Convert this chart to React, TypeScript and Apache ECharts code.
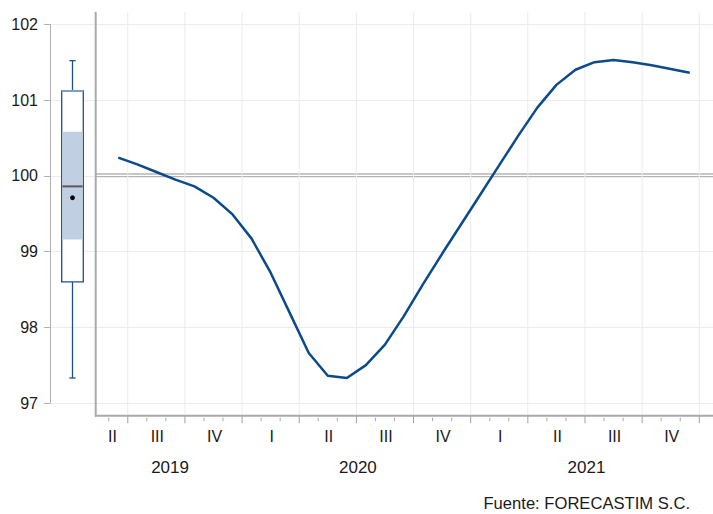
import { useEffect, useRef } from "react";
import * as echarts from "echarts";

// Monthly index, first value = June 2019
const START_YEAR = 2019;
const START_MONTH = 6;
const values: number[] = [
  100.24, 100.15, 100.05, 99.95, 99.86, 99.71, 99.49,
  99.17, 98.72, 98.19, 97.66, 97.36, 97.33, 97.5, 97.77, 98.15, 98.57, 98.97, 99.36, 99.75, 100.14, 100.53, 100.9,
  101.2, 101.4, 101.5, 101.53, 101.5, 101.46, 101.41, 101.36,
];
const quarterNames: string[] = ["I", "II", "III", "IV"];
const yTicks: number[] = [97, 98, 99, 100, 101, 102];
const boxWhiskers: number[] = [97.33, 101.52];
const boxQuartiles: number[] = [98.6, 101.12];
const boxNotch: number[] = [99.16, 100.58];
const boxMedian = 99.86;
const boxMean = 99.71;
const referenceLevel = 100;
const sourceText = "Fuente: FORECASTIM S.C.";

const FONT = '"Liberation Sans", Arial, sans-serif';
const TEXT = "#1a1a1a";
const GRID_C = "#ebebeb";
const AXIS_C = "#aaaaaa";
const BLUE = "#0c4a8c";

const monthOf = (i: number) => (((START_MONTH - 1 + i) % 12) + 12) % 12;
const yearOf = (i: number) => START_YEAR + Math.floor((START_MONTH - 1 + i) / 12);

export default function App() {
  const ref = useRef<HTMLDivElement>(null);
  useEffect(() => {
    if (!ref.current) return;
    const chart = echarts.init(ref.current, undefined, { renderer: "svg" });

    const n = values.length;
    const lineData = values.map((v, i) => [i, v]);

    const boundaries: number[][] = [];
    for (let i = -2; i <= n; i++) boundaries.push([i - 0.5, monthOf(i) % 3 === 0 ? 1 : 0]);

    const quarters: number[][] = [];
    const quarterLabels: string[] = [];
    for (let i = -3; i < n; i++) {
      if (monthOf(i) % 3 === 0) {
        quarters.push([i - 0.5, i + 2.5]);
        quarterLabels.push(quarterNames[monthOf(i) / 3]);
      }
    }
    const years: number[][] = [];
    const yearLabels: string[] = [];
    for (let i = -12; i < n; i++) {
      if (monthOf(i) === 0 || i === -12) {
        const y = yearOf(i);
        const startI = i - monthOf(i);
        years.push([startI - 0.5, startI + 11.5]);
        yearLabels.push(String(y));
      }
    }

    const xMin = -1.22;
    const xMax = 31.22;

    const clampSpan = (api: any, cs: any, a: number, b: number) => {
      let x0 = api.coord([a, 97])[0];
      let x1 = api.coord([b, 97])[0];
      x0 = Math.max(x0, cs.x);
      x1 = Math.min(x1, cs.x + cs.width);
      return [x0, x1];
    };

    const option: any = {
      animation: false,
      grid: [
        { left: 50, top: 24.3, width: 45, height: 378.7 },
        { left: 95, top: 24.3, width: 618, height: 378.7 },
      ],
      xAxis: [
        { gridIndex: 0, type: "value", min: 0, max: 1, show: false },
        {
          gridIndex: 1, type: "value", min: xMin, max: xMax,
          axisLine: { show: false }, axisTick: { show: false },
          axisLabel: { show: false }, splitLine: { show: false },
        },
      ],
      yAxis: [
        {
          gridIndex: 0, type: "value", min: yTicks[0], max: yTicks[yTicks.length - 1], interval: 1,
          axisLine: { show: true, lineStyle: { color: "#b0b0b0", width: 1 } },
          axisTick: { show: true, length: 6, lineStyle: { color: "#b0b0b0" } },
          axisLabel: { margin: 12, fontSize: 16, color: TEXT, fontFamily: FONT },
          splitLine: { show: true, lineStyle: { color: GRID_C, width: 1 } },
        },
        {
          gridIndex: 1, type: "value", min: yTicks[0], max: yTicks[yTicks.length - 1], interval: 1,
          axisLine: { show: false }, axisTick: { show: false }, axisLabel: { show: false },
          splitLine: { show: true, lineStyle: { color: GRID_C, width: 1 } },
        },
      ],
      series: [
        // boxplot panel
        {
          type: "custom", xAxisIndex: 0, yAxisIndex: 0, data: [[0.5]],
          renderItem: (_params: any, api: any) => {
            const c = (x: number, y: number) => api.coord([x, y]);
            const xl = c(0.26, 0)[0], xr = c(0.74, 0)[0], xc = c(0.5, 0)[0];
            const capL = c(0.43, 0)[0], capR = c(0.57, 0)[0];
            const yWl = c(0, boxWhiskers[0])[1], yWh = c(0, boxWhiskers[1])[1];
            const yQ1 = c(0, boxQuartiles[0])[1], yQ3 = c(0, boxQuartiles[1])[1];
            const yN1 = c(0, boxNotch[0])[1], yN2 = c(0, boxNotch[1])[1];
            const yMed = c(0, boxMedian)[1];
            const yMean = c(0, boxMean)[1];
            const blue = "#1f4f8f";
            return {
              type: "group",
              children: [
                { type: "line", shape: { x1: xc, y1: yWh, x2: xc, y2: yQ3 }, style: { stroke: blue, lineWidth: 1.3 } },
                { type: "line", shape: { x1: xc, y1: yQ1, x2: xc, y2: yWl }, style: { stroke: blue, lineWidth: 1.3 } },
                { type: "line", shape: { x1: capL, y1: yWh, x2: capR, y2: yWh }, style: { stroke: blue, lineWidth: 1.3 } },
                { type: "line", shape: { x1: capL, y1: yWl, x2: capR, y2: yWl }, style: { stroke: blue, lineWidth: 1.3 } },
                { type: "rect", shape: { x: xl, y: yQ3, width: xr - xl, height: yQ1 - yQ3 }, style: { fill: "#ffffff", stroke: blue, lineWidth: 1.3 } },
                { type: "rect", shape: { x: xl + 0.7, y: yN2, width: xr - xl - 1.4, height: yN1 - yN2 }, style: { fill: "#c0cfe1" } },
                { type: "line", shape: { x1: xl, y1: yQ3, x2: xr, y2: yQ3 }, style: { stroke: "#7f9fc3", lineWidth: 2 } },
                { type: "line", shape: { x1: xl + 0.7, y1: yMed, x2: xr - 0.7, y2: yMed }, style: { stroke: "#5a5a5a", lineWidth: 2 } },
                { type: "circle", shape: { cx: xc, cy: yMean, r: 2.4 }, style: { fill: "#000000" } },
              ],
            };
          },
        },
        // reference double line at 100
        {
          type: "custom", xAxisIndex: 1, yAxisIndex: 1, data: [[referenceLevel]],
          renderItem: (params: any, api: any) => {
            const cs = params.coordSys;
            const y = api.coord([xMin, api.value(0)])[1];
            return {
              type: "group",
              children: [
                { type: "line", shape: { x1: cs.x, y1: y - 1.8, x2: cs.x + cs.width, y2: y - 1.8 }, style: { stroke: "#b4b4b4", lineWidth: 1.3 } },
                { type: "line", shape: { x1: cs.x, y1: y + 0.8, x2: cs.x + cs.width, y2: y + 0.8 }, style: { stroke: "#b4b4b4", lineWidth: 1.3 } },
              ],
            };
          },
        },
        // month ticks and quarter gridlines
        {
          type: "custom", xAxisIndex: 1, yAxisIndex: 1, data: boundaries,
          renderItem: (params: any, api: any) => {
            const cs = params.coordSys;
            const [x, yb] = api.coord([api.value(0), yTicks[0]]);
            if (x < cs.x + 1 || x > cs.x + cs.width + 0.5) return null;
            const axisY = yb + 12.7;
            const major = api.value(1) === 1;
            const children: any[] = [];
            if (major) {
              children.push({ type: "line", shape: { x1: x, y1: cs.y - 12.3, x2: x, y2: axisY }, style: { stroke: GRID_C, lineWidth: 1 } });
              children.push({ type: "line", shape: { x1: x, y1: axisY, x2: x, y2: axisY + 7.5 }, style: { stroke: "#a0a0a0", lineWidth: 1 } });
            } else {
              children.push({ type: "line", shape: { x1: x, y1: axisY + 2, x2: x, y2: axisY + 5.5 }, style: { stroke: "#a8a8a8", lineWidth: 1 } });
            }
            return { type: "group", children };
          },
        },
        // quarter labels
        {
          type: "custom", xAxisIndex: 1, yAxisIndex: 1, data: quarters,
          renderItem: (params: any, api: any) => {
            const cs = params.coordSys;
            const [x0, x1] = clampSpan(api, cs, api.value(0), api.value(1));
            if (x1 - x0 < 12) return null;
            const axisY = api.coord([xMin, yTicks[0]])[1] + 12.7;
            return {
              type: "text", x: (x0 + x1) / 2 + 1, y: axisY + 20.5,
              style: { text: quarterLabels[params.dataIndex], fill: TEXT, font: `16px ${FONT}`, align: "center", verticalAlign: "middle" },
            };
          },
        },
        // year labels
        {
          type: "custom", xAxisIndex: 1, yAxisIndex: 1, data: years,
          renderItem: (params: any, api: any) => {
            const cs = params.coordSys;
            const [x0, x1] = clampSpan(api, cs, api.value(0), api.value(1));
            if (x1 - x0 < 30) return null;
            const axisY = api.coord([xMin, yTicks[0]])[1] + 12.7;
            return {
              type: "text", x: (x0 + x1) / 2 + 1.5, y: axisY + 51.5,
              style: { text: yearLabels[params.dataIndex], fill: TEXT, font: `17px ${FONT}`, align: "center", verticalAlign: "middle" },
            };
          },
        },
        {
          type: "line", xAxisIndex: 1, yAxisIndex: 1, data: lineData,
          symbol: "none", lineStyle: { color: BLUE, width: 2.5 }, z: 5,
        },
      ],
      graphic: [
        { type: "line", shape: { x1: 95.7, y1: 11.7, x2: 95.7, y2: 416.7 }, style: { stroke: AXIS_C, lineWidth: 2 }, z: 10 },
        { type: "line", shape: { x1: 95, y1: 415.7, x2: 713, y2: 415.7 }, style: { stroke: AXIS_C, lineWidth: 2 }, z: 10 },
        {
          type: "text", right: 23, top: 495,
          style: { text: sourceText, fill: TEXT, font: `16.6px ${FONT}` },
        },
      ],
    };
    chart.setOption(option);
    return () => chart.dispose();
  }, []);
  return <div ref={ref} style={{ position: "absolute", left: 0, top: 0, width: 713, height: 514 }} />;
}
